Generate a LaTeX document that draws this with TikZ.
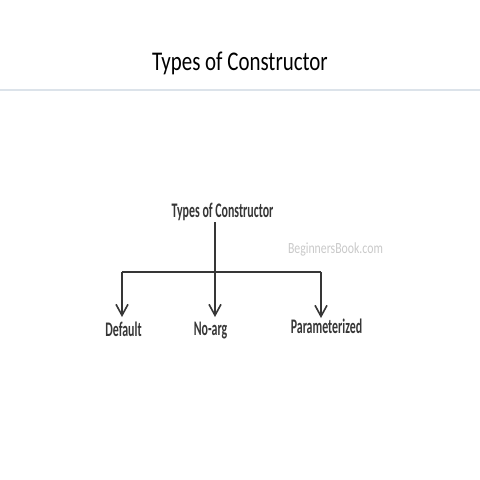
\documentclass[tikz,border=0pt]{standalone}
\usepackage{fontspec}
\usetikzlibrary{arrows.meta}
\setmainfont{Carlito}
\newfontfamily\headfont[FakeStretch=0.775]{Carlito}
\newfontfamily\boxfont[FakeStretch=0.575]{Carlito}
\newfontfamily\markfont[FakeStretch=0.76]{Carlito}
\definecolor{ink}{HTML}{363636}
\definecolor{rulecol}{HTML}{DCE3EA}
\definecolor{wmark}{HTML}{C9C9C9}
\tikzset{
  >={Straight Barb[length=11pt,width=12pt]},
  label/.style={anchor=base,inner sep=0pt,text=ink,font=\boxfont\bfseries\fontsize{20.7}{20.7}\selectfont},
}
\begin{document}
\begin{tikzpicture}[x=1pt,y=-1pt]
      \useasboundingbox (0,0) rectangle (480,480);

      \node[anchor=base,inner sep=0pt,font=\headfont\fontsize{27}{27}\selectfont] (title) at (240,70) {Types of Constructor};
      \coordinate (rl) at (0,90);
      \coordinate (rr) at (480,90);
      \draw[rulecol,line width=1.5pt] (rl) -- (rr);

      \node[label] (root) at (222.5,217.7) {Types of Constructor};
      \node[anchor=base,inner sep=0pt,text=wmark,font=\markfont\fontsize{15.5}{15.5}\selectfont] (mark) at (335.5,253.3) {BeginnersBook.com};
      \node[label] (default) at (123.5,336) {Default};
      \node[label] (noarg)   at (210.5,335) {No-arg};
      \node[label] (param)   at (326.5,333.5) {Parameterized};

      \coordinate (b1) at (122,272);
      \coordinate (b2) at (215,272);
      \coordinate (b3) at (321,272);

      \draw[ink,line width=1.6pt]
      (b2 |- 0,222) -- (b2)
      (b1) -- (b3)
      ;
      \draw[ink,line width=1.6pt,->] (b1) -- (b1 |- 0,317);
      \draw[ink,line width=1.6pt,->] (b2) -- (b2 |- 0,317);
      \draw[ink,line width=1.6pt,->] (b3) -- (b3 |- 0,318);
    \end{tikzpicture}
\end{document}
